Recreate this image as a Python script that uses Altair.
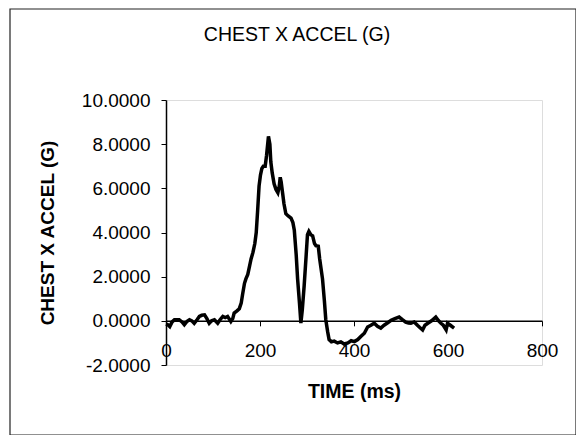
import altair as alt
import pandas as pd

time_ms = [0, 4, 8, 13, 18, 28, 34, 39, 45, 50, 55, 60, 66, 71, 76, 82, 87, 92, 97, 103,
           110, 115, 121, 126, 131, 138, 142, 145, 151, 156, 160, 163, 167, 170, 174, 178,
           181, 185, 189, 192, 195, 198, 201, 204, 207, 211, 214, 218, 221, 223, 226, 230,
           234, 238, 241, 243, 245, 248, 251, 255, 260, 266, 270, 273, 277, 280, 284, 287,
           290, 294, 298, 301, 304, 308, 312, 316, 319, 324, 327, 333, 337, 340, 344, 347,
           352, 358, 365, 372, 379, 387, 394, 401, 408, 415, 422, 429, 436, 443, 450, 457,
           464, 471, 479, 487, 496, 503, 510, 516, 521, 528, 535, 540, 546, 551, 557, 565,
           574, 580, 585, 590, 596, 599, 605, 613]
accel_g = [-0.15, -0.18, -0.26, -0.05, 0.05, 0.05, -0.05, -0.18, -0.02, 0.05, 0.0, -0.11,
           0.05, 0.2, 0.25, 0.27, 0.1, -0.11, 0.0, 0.05, -0.11, 0.05, 0.2, 0.15, 0.2, -0.03,
           0.1, 0.35, 0.45, 0.55, 0.8, 1.2, 1.7, 1.9, 2.1, 2.5, 2.8, 3.1, 3.5, 4.0, 5.0, 6.1,
           6.6, 6.9, 7.0, 7.0, 7.5, 8.35, 8.0, 7.2, 6.7, 6.2, 5.95, 5.8, 6.1, 6.5, 6.3, 5.8,
           5.3, 4.85, 4.75, 4.65, 4.45, 4.1, 3.0, 1.9, 0.8, -0.1, 0.5, 1.6, 2.9, 3.9, 4.05,
           3.9, 3.85, 3.5, 3.4, 3.38, 2.8, 1.9, 0.9, 0.05, -0.5, -0.85, -0.95, -0.92, -1.0,
           -0.95, -1.05, -1.0, -0.9, -0.94, -0.85, -0.7, -0.56, -0.28, -0.2, -0.11, -0.25,
           -0.33, -0.2, -0.1, 0.02, 0.1, 0.17, 0.05, -0.06, -0.1, -0.11, -0.05, -0.2, -0.3,
           -0.41, -0.2, -0.11, 0.0, 0.17, 0.0, -0.11, -0.2, -0.41, -0.11, -0.2, -0.33]

x_ticks = [0, 200, 400, 600, 800]
y_ticks = [-2, 0, 2, 4, 6, 8, 10]
chart_title = "CHEST X ACCEL (G)"

df = pd.DataFrame({"t": time_ms, "g": accel_g})

FONT = "Liberation Sans"
W, H = 376, 265
PL, PT = 158, 92

one = pd.DataFrame({"k": [0]})

frame = alt.Chart(one).mark_rect(
    fill=None, stroke="#222222", strokeWidth=1.2
).encode(
    x=alt.value(2 - PL), x2=alt.value(568 - PL),
    y=alt.value(1 - PT), y2=alt.value(427 - PT),
)

title = alt.Chart(one).mark_text(
    text=chart_title, font=FONT, fontSize=19.5, color="black",
    align="center", baseline="middle"
).encode(x=alt.value(289 - PL), y=alt.value(27 - PT))

label_expr = "datum.value < 0 ? '-' + format(-datum.value, '.4f') : format(datum.value, '.4f')"

line = alt.Chart(df).mark_line(color="black", strokeWidth=3.5, interpolate="linear").encode(
    x=alt.X("t:Q", scale=alt.Scale(domain=[0, 800], nice=False),
            axis=alt.Axis(values=x_ticks, title="TIME (ms)", offset=-(H * 2 / 12),
                          grid=False, domainColor="black", domainWidth=1.5,
                          tickColor="black", tickSize=5, labelPadding=16,
                          labelFlush=False, labelFontSize=19, labelFont=FONT,
                          labelColor="black", titleFont=FONT, titleFontSize=19.5,
                          titleFontWeight="bold", titleColor="black",
                          titleBaseline="middle", titleY=71)),
    y=alt.Y("g:Q", scale=alt.Scale(domain=[-2, 10], nice=False),
            axis=alt.Axis(values=y_ticks, labelExpr=label_expr, title="CHEST X ACCEL (G)",
                          grid=False, domainColor="black", domainWidth=1.5,
                          tickColor="black", tickSize=5, labelPadding=11,
                          labelFontSize=19, labelFont=FONT, labelColor="black",
                          titleFont=FONT, titleFontSize=19, titleFontWeight="bold",
                          titleColor="black", titleX=-119, titleBaseline="middle",
                          titleAngle=270)),
)

chart = alt.layer(frame, title, line).properties(
    width=W, height=H,
    autosize=alt.AutoSizeParams(type="none"),
    padding={"left": PL, "top": PT, "right": 568 - PL - W, "bottom": 427 - PT - H},
).configure_view(stroke="black", strokeWidth=1.5).configure(background="white")

chart.save("out.html", embed_options={"renderer": "svg", "actions": False})
